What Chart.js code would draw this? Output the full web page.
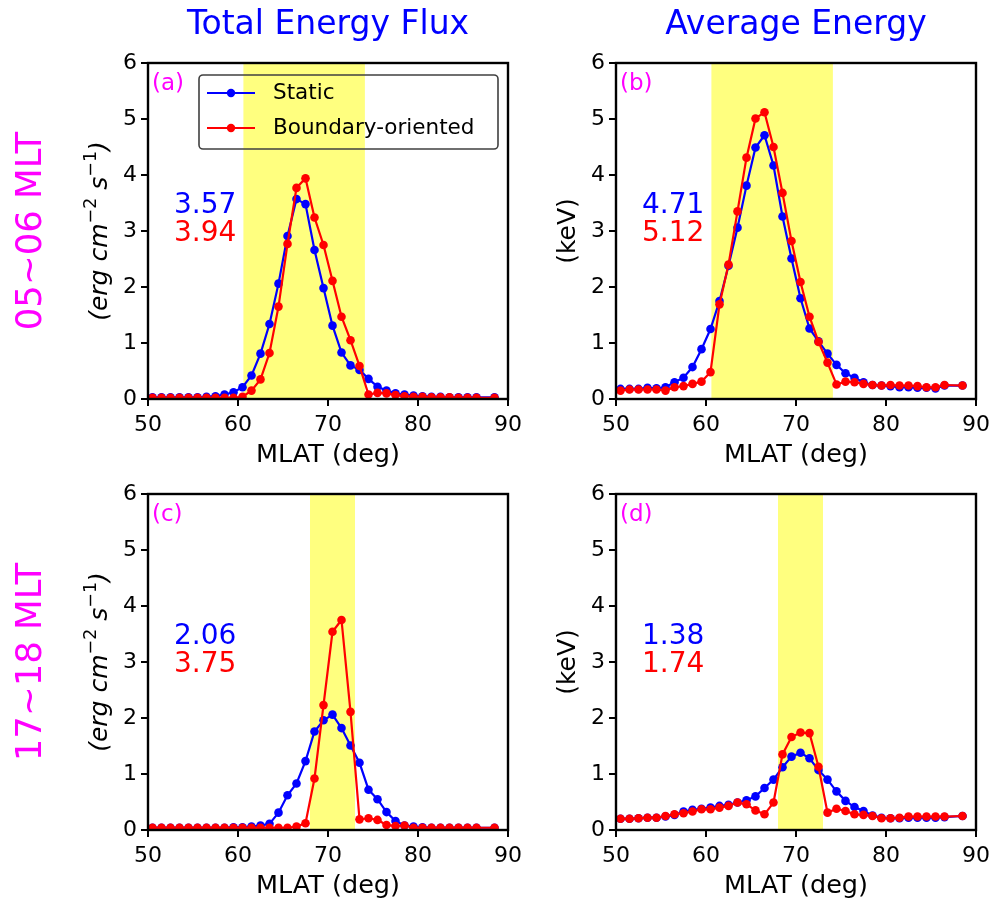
<!DOCTYPE html>
<html>
<head>
<meta charset="utf-8">
<script src="https://cdn.jsdelivr.net/npm/chart.js@4.4.1/dist/chart.umd.min.js"></script>
<style>
  html, body { margin: 0; padding: 0; background: #ffffff; }
  #wrap { position: relative; width: 1003px; height: 902px; overflow: hidden; background: #ffffff; }
  #wrap canvas { position: absolute; left: 0; top: 0; }
</style>
</head>
<body>
<div id="wrap">
  <canvas id="panelA" width="1003" height="902"></canvas>
  <canvas id="panelB" width="1003" height="902"></canvas>
  <canvas id="panelC" width="1003" height="902"></canvas>
  <canvas id="panelD" width="1003" height="902"></canvas>
</div>
<script>
// Magnetic latitude bin centres (deg); the 87.5 bin has no data
const mlat = [50.5, 51.5, 52.5, 53.5, 54.5, 55.5, 56.5, 57.5, 58.5, 59.5,
              60.5, 61.5, 62.5, 63.5, 64.5, 65.5, 66.5, 67.5, 68.5, 69.5,
              70.5, 71.5, 72.5, 73.5, 74.5, 75.5, 76.5, 77.5, 78.5, 79.5,
              80.5, 81.5, 82.5, 83.5, 84.5, 85.5, 86.5, 88.5];

// 05~06 MLT, total energy flux (erg cm^-2 s^-1)
const fluxDawnStatic = [0.03, 0.03, 0.03, 0.03, 0.03, 0.03, 0.04, 0.05, 0.08, 0.12,
                        0.21, 0.42, 0.81, 1.34, 2.06, 2.91, 3.57, 3.48, 2.66, 1.98,
                        1.31, 0.83, 0.60, 0.52, 0.36, 0.22, 0.15, 0.10, 0.08, 0.06,
                        0.05, 0.04, 0.04, 0.03, 0.03, 0.03, 0.03, 0.03];
const fluxDawnBoundary = [0.02, 0.02, 0.02, 0.02, 0.02, 0.02, 0.02, 0.02, 0.02, 0.02,
                          0.04, 0.15, 0.35, 0.82, 1.65, 2.77, 3.77, 3.94, 3.24, 2.75,
                          2.11, 1.47, 1.05, 0.59, 0.08, 0.11, 0.10, 0.07, 0.05, 0.04,
                          0.04, 0.03, 0.03, 0.03, 0.02, 0.02, 0.02, 0.02];

// 05~06 MLT, average energy (keV)
const energyDawnStatic = [0.18, 0.18, 0.18, 0.20, 0.19, 0.21, 0.30, 0.38, 0.57, 0.89,
                          1.25, 1.75, 2.38, 3.06, 3.81, 4.49, 4.71, 4.17, 3.26, 2.51,
                          1.80, 1.26, 1.03, 0.81, 0.61, 0.46, 0.38, 0.30, 0.25, 0.24,
                          0.23, 0.21, 0.21, 0.20, 0.20, 0.19, 0.24, 0.24];
const energyDawnBoundary = [0.15, 0.17, 0.17, 0.17, 0.17, 0.15, 0.21, 0.23, 0.27, 0.31,
                            0.48, 1.69, 2.40, 3.35, 4.31, 5.01, 5.12, 4.50, 3.68, 2.82,
                            2.09, 1.47, 1.02, 0.65, 0.26, 0.31, 0.30, 0.27, 0.25, 0.24,
                            0.25, 0.24, 0.24, 0.23, 0.21, 0.21, 0.25, 0.24];

// 17~18 MLT, total energy flux (erg cm^-2 s^-1)
const fluxDuskStatic = [0.04, 0.04, 0.04, 0.04, 0.04, 0.04, 0.04, 0.04, 0.04, 0.05,
                        0.05, 0.06, 0.08, 0.11, 0.31, 0.62, 0.83, 1.23, 1.76, 1.96,
                        2.06, 1.82, 1.51, 1.20, 0.72, 0.55, 0.32, 0.16, 0.08, 0.06,
                        0.05, 0.04, 0.04, 0.04, 0.04, 0.04, 0.04, 0.04];
const fluxDuskBoundary = [0.04, 0.04, 0.04, 0.04, 0.04, 0.04, 0.04, 0.04, 0.04, 0.04,
                          0.04, 0.04, 0.04, 0.04, 0.04, 0.04, 0.06, 0.12, 0.92, 2.23,
                          3.54, 3.75, 2.11, 0.19, 0.21, 0.18, 0.09, 0.07, 0.08, 0.04,
                          0.04, 0.04, 0.04, 0.04, 0.04, 0.04, 0.04, 0.04];

// 17~18 MLT, average energy (keV)
const energyDuskStatic = [0.20, 0.20, 0.21, 0.22, 0.22, 0.24, 0.27, 0.33, 0.36, 0.38,
                          0.40, 0.43, 0.45, 0.49, 0.53, 0.60, 0.75, 0.90, 1.12, 1.31,
                          1.38, 1.28, 1.07, 0.90, 0.69, 0.52, 0.41, 0.34, 0.26, 0.22,
                          0.21, 0.21, 0.22, 0.22, 0.22, 0.22, 0.23, 0.25];
const energyDuskBoundary = [0.20, 0.20, 0.21, 0.22, 0.22, 0.25, 0.28, 0.30, 0.33, 0.37,
                            0.37, 0.40, 0.43, 0.49, 0.46, 0.35, 0.28, 0.49, 1.35, 1.66,
                            1.74, 1.73, 1.13, 0.31, 0.38, 0.34, 0.28, 0.27, 0.25, 0.21,
                            0.21, 0.22, 0.24, 0.24, 0.24, 0.24, 0.24, 0.25];

// Shaded auroral boundary ranges (deg MLAT)
const bandDawn = [60.6, 74.1];
const bandDusk = [68.0, 73.0];

// Axis tick labels
const xTicks = [50, 60, 70, 80, 90];
const yTicks = [0, 1, 2, 3, 4, 5, 6];

const seriesNames = ['Static', 'Boundary-oriented'];

const BLUE = '#0000ff';
const RED = '#ff0000';
const MAGENTA = '#ff00ff';
const FONT = "'DejaVu Sans', sans-serif";

Chart.defaults.font.family = FONT;

// Draws a unit string like (erg cm^-2 s^-1) with raised exponents, centred on x = 0
function drawFluxUnit(ctx) {
  const parts = [
    { t: '(erg cm', f: 'italic 25px ' + FONT, dy: 0 },
    { t: '\u22122', f: '17.5px ' + FONT, dy: -11 },
    { t: ' s', f: 'italic 25px ' + FONT, dy: 0 },
    { t: '\u22121', f: '17.5px ' + FONT, dy: -11 },
    { t: ')', f: 'italic 25px ' + FONT, dy: 0 }
  ];
  let total = 0;
  parts.forEach(p => { ctx.font = p.f; p.w = ctx.measureText(p.t).width; total += p.w; });
  let x = -total / 2;
  ctx.textAlign = 'left';
  ctx.textBaseline = 'alphabetic';
  parts.forEach(p => { ctx.font = p.f; ctx.fillText(p.t, x, p.dy); x += p.w; });
}

const panelDecor = {
  id: 'panelDecor',
  beforeDatasetsDraw(chart, args, o) {
    const { ctx, chartArea: a, scales: { x } } = chart;
    const x0 = x.getPixelForValue(o.band[0]);
    const x1 = x.getPixelForValue(o.band[1]);
    ctx.save();
    ctx.fillStyle = 'rgba(255,255,0,0.5)';
    ctx.fillRect(x0, a.top, x1 - x0, a.bottom - a.top);
    ctx.restore();
  },
  afterDatasetsDraw(chart) {
    const { ctx, chartArea: a } = chart;
    ctx.save();
    ctx.strokeStyle = '#000';
    ctx.lineWidth = 2.4;
    ctx.strokeRect(a.left, a.top, a.right - a.left, a.bottom - a.top);
    ctx.restore();
  },
  afterDraw(chart, args, o) {
    const { ctx, chartArea: a } = chart;
    const midY = (a.top + a.bottom) / 2;
    ctx.save();

    // panel letter
    ctx.fillStyle = MAGENTA;
    ctx.font = '23px ' + FONT;
    ctx.textAlign = 'left';
    ctx.textBaseline = 'alphabetic';
    ctx.fillText(o.letter, a.left + 4, a.top + 27);

    // peak values of each series
    const ds = chart.data.datasets;
    const peak = d => Math.max(...d.data.map(p => p.y)).toFixed(2);
    ctx.font = '28px ' + FONT;
    ctx.fillStyle = BLUE;
    ctx.fillText(peak(ds[0]), a.left + 26, a.top + 150);
    ctx.fillStyle = RED;
    ctx.fillText(peak(ds[1]), a.left + 26, a.top + 178);

    // y axis title
    ctx.save();
    ctx.translate(a.left - 41, midY);
    ctx.rotate(-Math.PI / 2);
    ctx.fillStyle = '#000';
    if (o.unit === 'flux') {
      drawFluxUnit(ctx);
    } else {
      ctx.font = '25px ' + FONT;
      ctx.textAlign = 'center';
      ctx.textBaseline = 'alphabetic';
      ctx.fillText('(keV)', 0, 0);
    }
    ctx.restore();

    // column heading
    if (o.heading) {
      ctx.font = '33px ' + FONT;
      ctx.fillStyle = BLUE;
      ctx.textAlign = 'center';
      ctx.textBaseline = 'alphabetic';
      ctx.fillText(o.heading, (a.left + a.right) / 2, a.top - 29);
    }

    // row label
    if (o.rowLabel) {
      ctx.save();
      ctx.translate(41, midY);
      ctx.rotate(-Math.PI / 2);
      ctx.font = '35.5px ' + FONT;
      ctx.fillStyle = MAGENTA;
      ctx.textAlign = 'center';
      ctx.textBaseline = 'alphabetic';
      ctx.fillText(o.rowLabel, 0, 0);
      ctx.restore();
    }

    // legend
    if (o.legend) {
      const lx = a.left + 51, ly = a.top + 12, lw = 299, lh = 74;
      ctx.beginPath();
      ctx.roundRect(lx, ly, lw, lh, 4);
      ctx.strokeStyle = '#404040';
      ctx.lineWidth = 1.6;
      ctx.stroke();
      const rows = [{ c: BLUE, t: seriesNames[0], y: ly + 18 }, { c: RED, t: seriesNames[1], y: ly + 53 }];
      rows.forEach(r => {
        ctx.strokeStyle = r.c;
        ctx.lineWidth = 2.2;
        ctx.beginPath();
        ctx.moveTo(lx + 8, r.y);
        ctx.lineTo(lx + 56, r.y);
        ctx.stroke();
        ctx.fillStyle = r.c;
        ctx.beginPath();
        ctx.arc(lx + 32, r.y, 4.2, 0, Math.PI * 2);
        ctx.fill();
        ctx.fillStyle = '#000';
        ctx.font = '21.5px ' + FONT;
        ctx.textAlign = 'left';
        ctx.textBaseline = 'middle';
        ctx.fillText(r.t, lx + 74, r.y);
      });
    }
    ctx.restore();
  }
};

const Y_AXIS_W = 60;
const X_AXIS_H = 72;

function axisCommon(ticksArr, pad) {
  return {
    type: 'linear',
    afterBuildTicks: s => { s.ticks = ticksArr.map(v => ({ value: v })); },
    ticks: { font: { size: 22 }, color: '#000', autoSkip: false, maxRotation: 0, padding: pad },
    grid: { drawOnChartArea: false, tickLength: 7, color: '#000', lineWidth: 2 },
    border: { display: false }
  };
}

function makePanel(id, cfg) {
  const pts = vals => mlat.map((m, i) => ({ x: m, y: vals[i] }));
  const a = cfg.area;
  const xAxis = axisCommon(xTicks, 6);
  Object.assign(xAxis, {
    min: 50, max: 90,
    afterFit: s => { s.height = X_AXIS_H; },
    title: { display: true, text: 'MLAT (deg)', font: { size: 25.5 }, color: '#000', padding: 0 }
  });
  const yAxis = axisCommon(yTicks, 4);
  Object.assign(yAxis, {
    min: 0, max: 6,
    afterFit: s => { s.width = Y_AXIS_W; },
    title: { display: false }
  });

  const line = (label, vals, color, order) => ({
    label, data: pts(vals), order,
    borderColor: color, backgroundColor: color,
    pointBackgroundColor: color, pointBorderColor: color,
    borderWidth: 2.2, pointRadius: 4.3, pointBorderWidth: 0,
    tension: 0, clip: 0
  });

  return new Chart(document.getElementById(id), {
    type: 'line',
    data: {
      datasets: [
        line(seriesNames[0], cfg.static, BLUE, 1),
        line(seriesNames[1], cfg.boundary, RED, 0)
      ]
    },
    options: {
      responsive: false,
      animation: false,
      devicePixelRatio: 1,
      events: [],
      layout: {
        padding: {
          left: a.left - Y_AXIS_W,
          top: a.top,
          right: 1003 - a.right,
          bottom: 902 - a.bottom - X_AXIS_H
        }
      },
      scales: { x: xAxis, y: yAxis },
      plugins: {
        legend: { display: false },
        tooltip: { enabled: false },
        panelDecor: {
          band: cfg.band, letter: cfg.letter, unit: cfg.unit,
          heading: cfg.heading, rowLabel: cfg.rowLabel, legend: cfg.legend
        }
      }
    },
    plugins: [panelDecor]
  });
}

makePanel('panelA', {
  area: { left: 148, right: 508, top: 63, bottom: 399 },
  static: fluxDawnStatic, boundary: fluxDawnBoundary, band: bandDawn,
  letter: '(a)', unit: 'flux', heading: 'Total Energy Flux', rowLabel: '05~06 MLT', legend: true
});
makePanel('panelB', {
  area: { left: 616, right: 976, top: 63, bottom: 399 },
  static: energyDawnStatic, boundary: energyDawnBoundary, band: bandDawn,
  letter: '(b)', unit: 'energy', heading: 'Average Energy'
});
makePanel('panelC', {
  area: { left: 148, right: 508, top: 494, bottom: 830 },
  static: fluxDuskStatic, boundary: fluxDuskBoundary, band: bandDusk,
  letter: '(c)', unit: 'flux', rowLabel: '17~18 MLT'
});
makePanel('panelD', {
  area: { left: 616, right: 976, top: 494, bottom: 830 },
  static: energyDuskStatic, boundary: energyDuskBoundary, band: bandDusk,
  letter: '(d)', unit: 'energy'
});
</script>
</body>
</html>
